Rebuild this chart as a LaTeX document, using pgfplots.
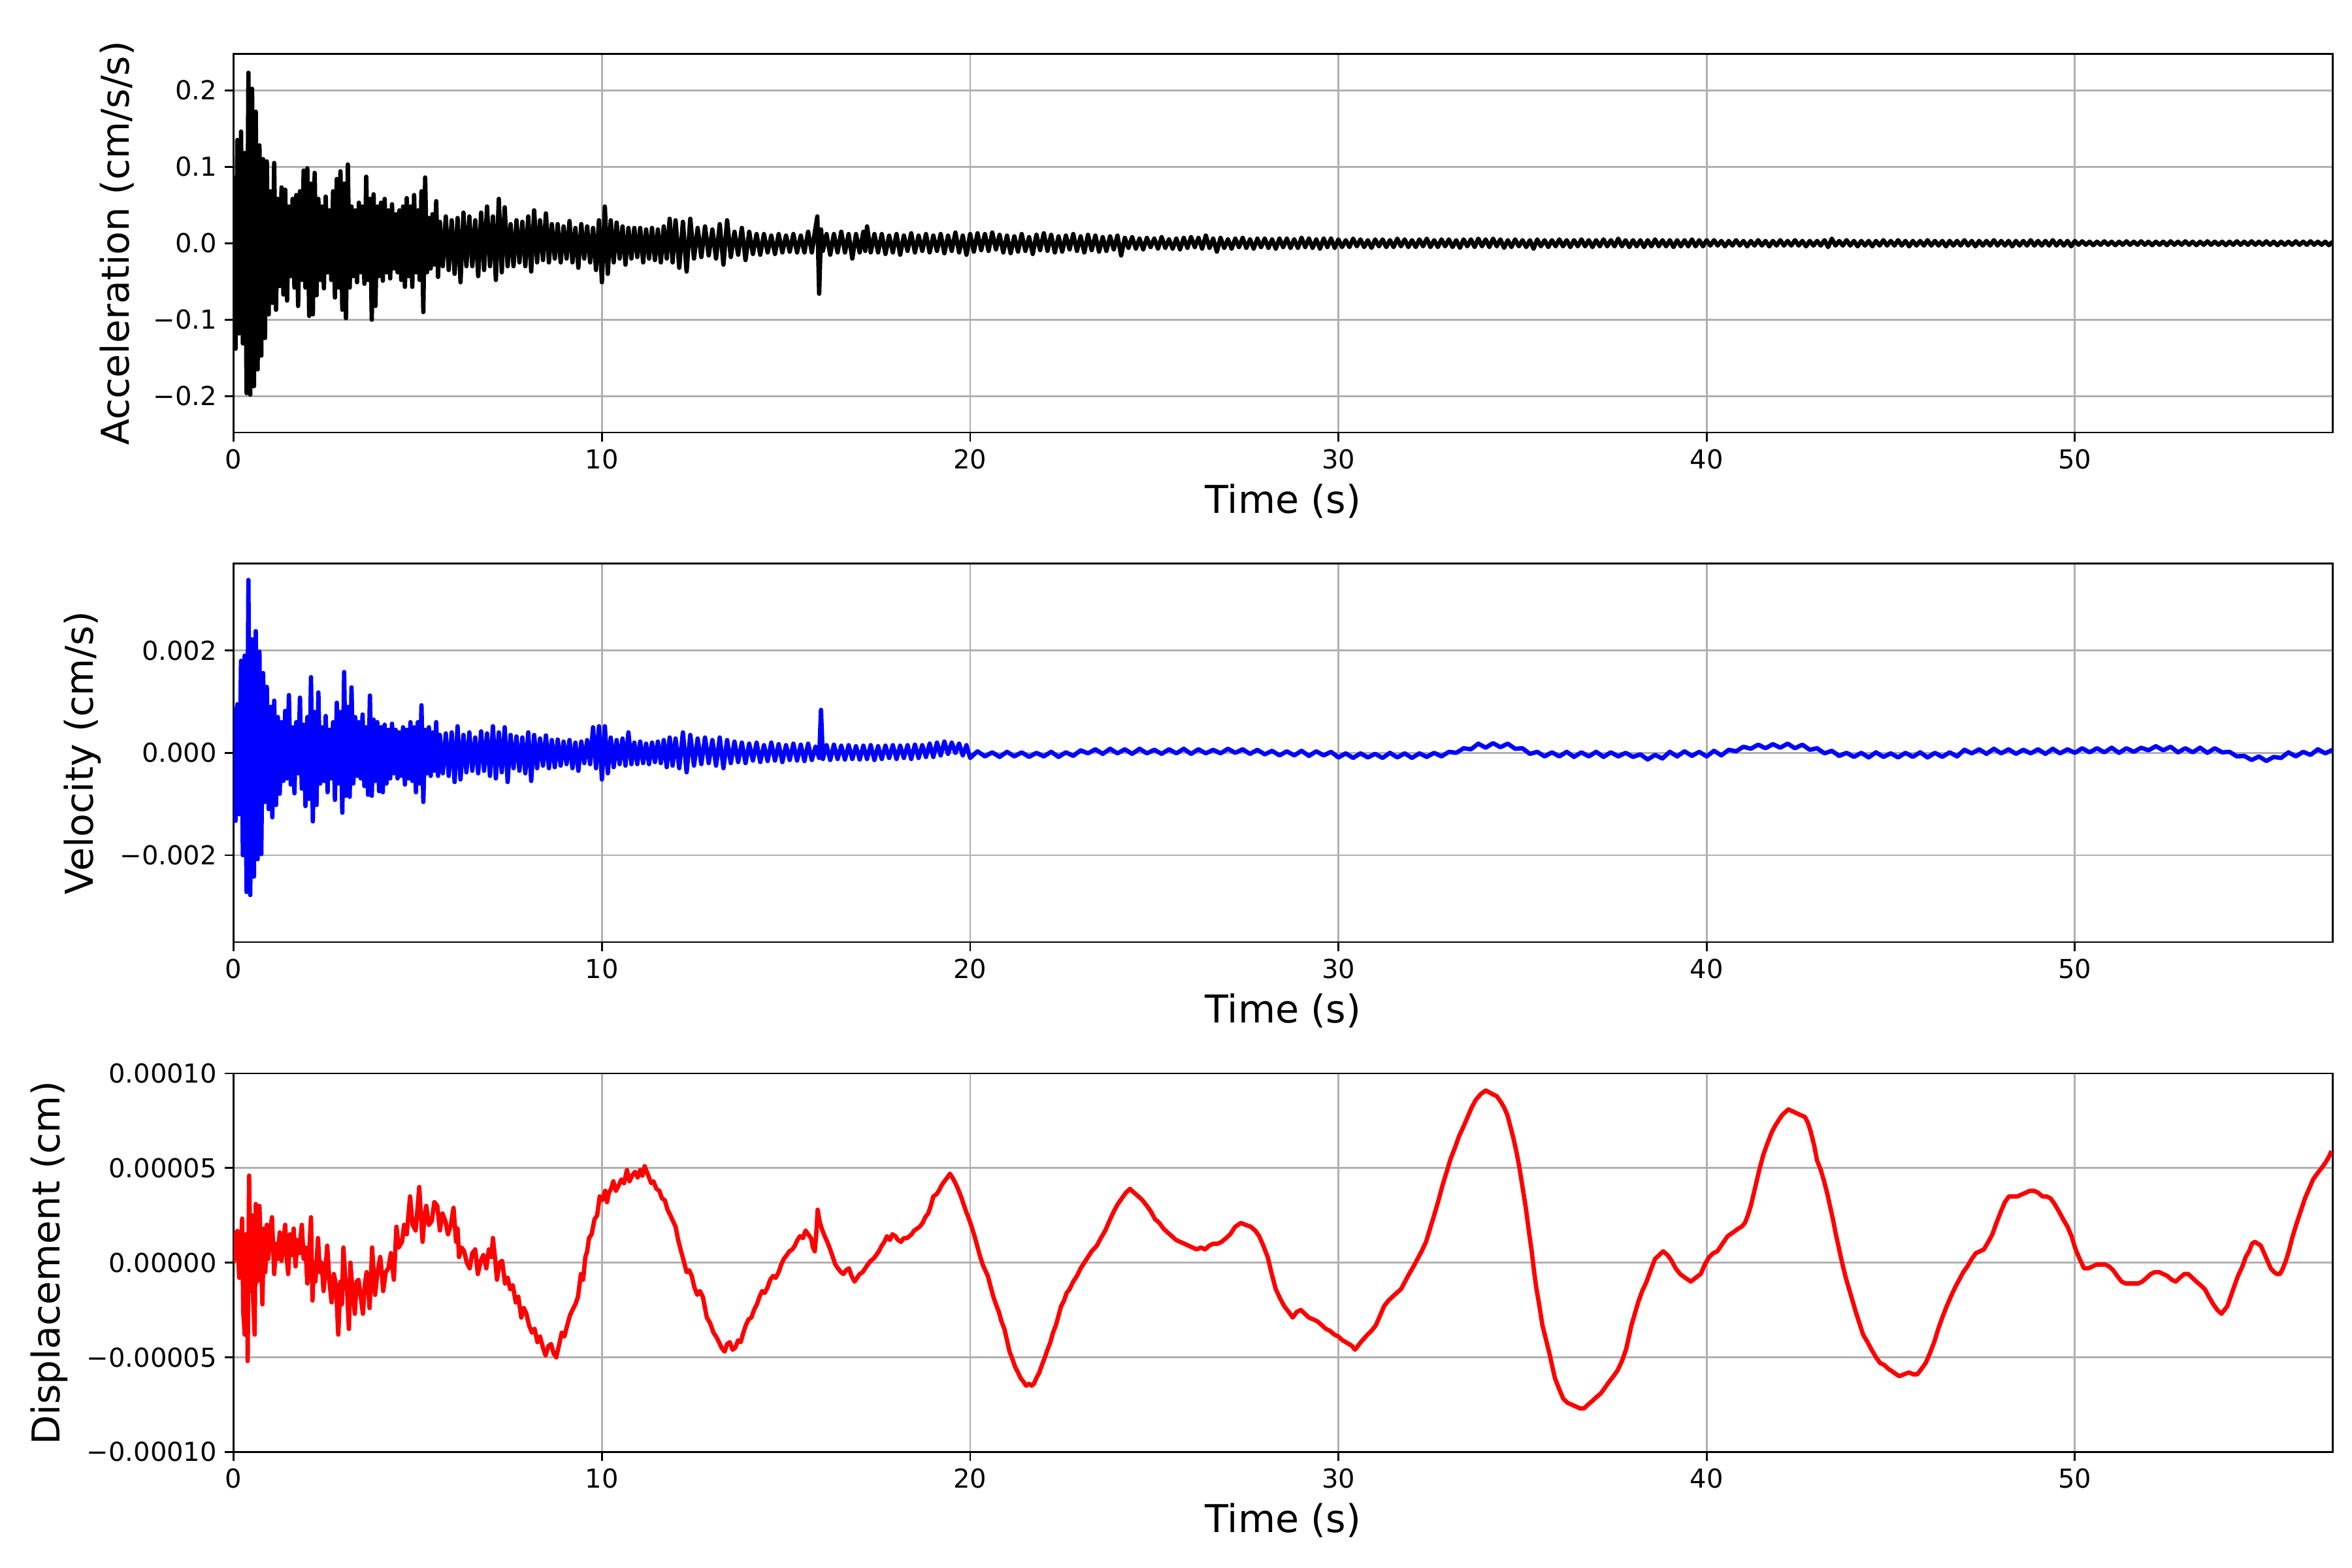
\documentclass[border=0pt]{standalone}
\usepackage{fontspec}
\setmainfont{DejaVu Sans}
\usepackage{pgfplots}
\pgfplotsset{compat=1.18}
\definecolor{gridgray}{HTML}{B0B0B0}
\pgfplotsset{
  panel/.style={
    scale only axis, width=963.8pt, height=173.8pt, anchor=south west,
    xmin=0, xmax=57,
    xtick={0,10,20,30,40,50}, xticklabels={0,10,20,30,40,50},
    grid=major, major grid style={draw=gridgray, line width=0.8pt},
    axis line style={line width=0.8pt},
    tick style={black, line width=0.8pt},
    tick align=outside, major tick length=4.2pt,
    tick pos=left,
    tick label style={font=\fontsize{12}{14}\selectfont},
    label style={font=\fontsize{17.6}{21}\selectfont},
    ylabel shift=2pt,
    xlabel={Time (s)},
    scaled ticks=false,
  },
  sig/.style={line width=2pt, line join=round},
}
\begin{document}
\begin{tikzpicture}
\useasboundingbox (0,0) rectangle (1080pt,720pt);
% ---------------- Acceleration ----------------
\begin{axis}[panel, at={(107.3pt,521.4pt)},
  ymin=-0.2475, ymax=0.2475,
  ytick={-0.2,-0.1,0,0.1,0.2}, yticklabels={−0.2,−0.1,0.0,0.1,0.2},
  ylabel={Acceleration (cm/s/s)}]
\addplot[sig, black] coordinates {
(0.00,0.088)(0.05,-0.138)(0.10,0.135)(0.15,-0.118)(0.20,0.146)(0.25,-0.131)(0.30,0.118)(0.35,-0.196)(0.40,0.223)(0.45,-0.198)
(0.50,0.202)(0.55,-0.187)(0.60,0.172)(0.65,-0.165)(0.70,0.128)(0.75,-0.147)(0.80,0.110)(0.85,-0.124)(0.90,0.107)(0.95,-0.093)
(1.00,0.068)(1.05,-0.078)(1.10,0.105)(1.15,-0.087)(1.20,0.058)(1.25,-0.056)(1.30,0.073)(1.35,-0.067)(1.40,0.070)(1.45,-0.075)
(1.50,0.048)(1.55,-0.043)(1.60,0.058)(1.65,-0.058)(1.70,0.063)(1.75,-0.082)(1.80,0.068)(1.85,-0.048)(1.90,0.095)(1.95,-0.058)
(2.00,0.098)(2.05,-0.095)(2.10,0.078)(2.15,-0.093)(2.20,0.092)(2.25,-0.068)(2.30,0.058)(2.35,-0.048)(2.40,0.048)(2.45,-0.059)
(2.50,0.061)(2.55,-0.038)(2.60,0.043)(2.65,-0.048)(2.70,0.068)(2.75,-0.071)(2.80,0.084)(2.85,-0.058)(2.90,0.094)(2.95,-0.087)
(3.00,0.078)(3.05,-0.098)(3.10,0.103)(3.15,-0.058)(3.20,0.048)(3.25,-0.043)(3.30,0.043)(3.35,-0.051)(3.40,0.053)(3.45,-0.038)
(3.50,0.048)(3.55,-0.053)(3.60,0.087)(3.65,-0.048)(3.70,0.058)(3.75,-0.100)(3.80,0.064)(3.85,-0.082)(3.90,0.048)(3.95,-0.043)
(4.00,0.053)(4.05,-0.049)(4.10,0.058)(4.15,-0.038)(4.20,0.043)(4.25,-0.046)(4.30,0.051)(4.35,-0.033)(4.40,0.038)(4.45,-0.038)
(4.50,0.043)(4.55,-0.048)(4.60,0.048)(4.65,-0.057)(4.70,0.059)(4.75,-0.043)(4.80,0.048)(4.85,-0.057)(4.90,0.063)(4.95,-0.038)
(5.00,0.043)(5.05,-0.048)(5.10,0.068)(5.15,-0.090)(5.20,0.086)(5.25,-0.038)(5.30,0.033)(5.35,-0.033)(5.40,0.038)(5.45,-0.028)
(5.50,0.055)(5.55,-0.044)(5.60,0.028)
(5.68,-0.030)(5.76,0.035)(5.84,-0.035)(5.92,0.030)(6.00,-0.040)(6.08,0.033)(6.16,-0.051)(6.24,0.040)(6.32,-0.030)(6.40,0.035)
(6.48,-0.030)(6.56,0.030)(6.64,-0.043)(6.72,0.040)(6.80,-0.035)(6.88,0.048)(6.96,-0.030)(7.04,0.035)(7.12,-0.048)(7.20,0.058)
(7.28,-0.038)(7.36,0.047)(7.44,-0.030)(7.52,0.025)(7.60,-0.030)(7.68,0.030)(7.76,-0.025)(7.84,0.028)(7.92,-0.030)(8.00,0.035)
(8.08,-0.037)(8.16,0.043)(8.24,-0.025)(8.32,0.030)(8.40,-0.022)(8.48,0.039)(8.56,-0.025)(8.64,0.025)(8.72,-0.020)(8.80,0.025)
(8.88,-0.025)(8.96,0.022)(9.04,-0.020)(9.12,0.029)(9.20,-0.025)(9.28,0.020)(9.36,-0.032)(9.44,0.025)(9.52,-0.020)(9.60,0.022)
(9.68,-0.025)(9.76,0.020)(9.84,-0.035)(9.92,0.030)(10.00,-0.051)(10.08,0.048)(10.16,-0.040)(10.24,0.030)(10.32,-0.025)(10.40,0.027)
(10.48,-0.020)(10.56,0.022)(10.64,-0.028)(10.72,0.020)(10.80,-0.020)(10.88,0.020)(10.96,-0.018)(11.04,0.020)(11.12,-0.025)(11.20,0.018)
(11.28,-0.020)(11.36,0.020)(11.44,-0.022)(11.52,0.018)(11.60,-0.025)(11.68,0.022)(11.76,-0.020)(11.84,0.032)(11.92,-0.025)(12.00,0.030)
(12.1,-0.032)(12.2,0.028)(12.3,-0.037)(12.4,0.032)(12.5,-0.020)(12.6,0.020)(12.7,-0.018)(12.8,0.022)(12.9,-0.016)(13.0,0.018)
(13.1,-0.020)(13.2,0.025)(13.3,-0.028)(13.4,0.030)(13.5,-0.018)(13.6,0.015)(13.7,-0.015)(13.8,0.020)(13.9,-0.022)(14.0,0.015)
(14.1,-0.014)(14.2,0.012)(14.3,-0.015)(14.4,0.012)(14.5,-0.012)(14.6,0.010)(14.7,-0.014)(14.8,0.012)(14.9,-0.012)(15.0,0.010)
(15.1,-0.011)(15.2,0.012)(15.3,-0.012)(15.4,0.010)(15.5,-0.012)(15.6,0.015)(15.7,-0.012)(15.8,0.020)(15.85,0.035)(15.9,-0.066)
(15.95,0.018)(16.0,-0.010)(16.1,0.012)(16.2,-0.015)(16.3,0.012)(16.4,-0.012)(16.5,0.015)(16.6,-0.012)(16.7,0.012)(16.8,-0.020)
(16.9,0.012)(17.0,-0.012)(17.1,0.015)(17.15,-0.010)(17.2,0.022)(17.3,-0.012)(17.4,0.012)(17.5,-0.012)(17.6,0.012)(17.7,-0.014)
(17.8,0.010)(17.9,-0.012)(18.0,0.012)(18.1,-0.015)(18.2,0.010)(18.3,-0.010)(18.4,0.013)(18.5,-0.012)(18.6,0.010)(18.7,-0.010)
(18.8,0.012)(18.9,-0.012)(19.0,0.010)(19.1,-0.010)(19.2,0.012)(19.3,-0.013)(19.4,0.010)(19.5,-0.010)(19.6,0.014)(19.7,-0.012)
(19.8,0.010)(19.9,-0.015)(20.0,0.012)
(20.1,-0.011)(20.2,0.013)(20.3,-0.009)(20.4,0.012)(20.5,-0.010)(20.6,0.014)(20.7,-0.008)(20.8,0.011)(20.9,-0.012)(21.0,0.010)
(21.1,-0.013)(21.2,0.009)(21.3,-0.011)(21.4,0.012)(21.5,-0.010)(21.6,0.008)(21.7,-0.014)(21.8,0.011)(21.9,-0.009)(22.0,0.013)
(22.1,-0.010)(22.2,0.011)(22.3,-0.012)(22.4,0.009)(22.5,-0.011)(22.6,0.010)(22.7,-0.008)(22.8,0.012)(22.9,-0.010)(23.0,0.009)
(23.1,-0.012)(23.2,0.011)(23.3,-0.009)(23.4,0.010)(23.5,-0.011)(23.6,0.008)(23.7,-0.010)(23.8,0.009)(23.9,-0.008)(24.0,0.010)
(24.1,-0.016)(24.2,0.007)(24.3,-0.006)(24.4,0.008)(24.5,-0.007)(24.6,0.006)(24.7,-0.008)(24.8,0.007)(24.9,-0.005)(25.0,0.006)
(25.1,-0.007)(25.2,0.008)(25.3,-0.006)(25.4,0.005)(25.5,-0.007)(25.6,0.006)(25.7,-0.008)(25.8,0.007)(25.9,-0.006)(26.0,0.008)
(26.1,-0.005)(26.2,0.007)(26.3,-0.007)(26.4,0.010)(26.5,-0.006)(26.6,0.006)(26.7,-0.011)(26.8,0.007)(26.9,-0.006)(27.0,0.005)
(27.1,-0.007)(27.2,0.006)(27.3,-0.005)(27.4,0.007)(27.5,-0.006)(27.6,0.005)(27.7,-0.007)(27.8,0.006)(27.9,-0.005)(28.0,0.006)
(28.1,-0.006)(28.2,0.005)(28.3,-0.007)(28.4,0.006)(28.5,-0.005)(28.6,0.006)(28.7,-0.006)(28.8,0.005)(28.9,-0.006)(29.0,0.007)
(29.1,-0.005)(29.2,0.006)(29.3,-0.006)(29.4,0.005)(29.5,-0.007)(29.6,0.006)(29.7,-0.005)(29.8,0.006)(29.9,-0.006)(30.0,0.005)
(30.1,-0.005)(30.2,0.004)(30.3,-0.005)(30.4,0.006)(30.5,-0.004)(30.6,0.005)(30.7,-0.005)(30.8,0.004)(30.9,-0.006)(31.0,0.005)
(31.1,-0.004)(31.2,0.005)(31.3,-0.005)(31.4,0.004)(31.5,-0.005)(31.6,0.006)(31.7,-0.004)(31.8,0.005)(31.9,-0.005)(32.0,0.004)
(32.1,-0.005)(32.2,0.005)(32.3,-0.004)(32.4,0.006)(32.5,-0.005)(32.6,0.004)(32.7,-0.005)(32.8,0.005)(32.9,-0.004)(33.0,0.005)
(33.1,-0.005)(33.2,0.004)(33.3,-0.006)(33.4,0.005)(33.5,-0.004)(33.6,0.005)(33.7,-0.005)(33.8,0.006)(33.9,-0.004)(34.0,0.005)
(34.1,-0.005)(34.2,0.006)(34.3,-0.004)(34.4,0.005)(34.5,-0.006)(34.6,0.004)(34.7,-0.005)(34.8,0.005)(34.9,-0.004)(35.0,0.004)
(35.1,-0.005)(35.2,0.004)(35.3,-0.007)(35.4,0.005)(35.5,-0.004)(35.6,0.004)(35.7,-0.005)(35.8,0.004)(35.9,-0.004)(36.0,0.005)
(36.1,-0.004)(36.2,0.004)(36.3,-0.005)(36.4,0.004)(36.5,-0.004)(36.6,0.005)(36.7,-0.004)(36.8,0.004)(36.9,-0.005)(37.0,0.004)
(37.1,-0.004)(37.2,0.005)(37.3,-0.004)(37.4,0.004)(37.5,-0.004)(37.6,0.006)(37.7,-0.004)(37.8,0.004)(37.9,-0.005)(38.0,0.004)
(38.1,-0.004)(38.2,0.004)(38.3,-0.005)(38.4,0.004)(38.5,-0.004)(38.6,0.005)(38.7,-0.004)(38.8,0.004)(38.9,-0.004)(39.0,0.004)
(39.1,-0.005)(39.2,0.004)(39.3,-0.004)(39.4,0.004)(39.5,-0.004)(39.6,0.005)(39.7,-0.004)(39.8,0.004)(39.9,-0.004)(40.0,0.004)
(40.1,-0.003)(40.2,0.004)(40.3,-0.003)(40.4,0.003)(40.5,-0.004)(40.6,0.003)(40.7,-0.003)(40.8,0.004)(40.9,-0.003)(41.0,0.003)
(41.1,-0.004)(41.2,0.003)(41.3,-0.003)(41.4,0.004)(41.5,-0.003)(41.6,0.003)(41.7,-0.004)(41.8,0.003)(41.9,-0.003)(42.0,0.004)
(42.1,-0.003)(42.2,0.003)(42.3,-0.003)(42.4,0.004)(42.5,-0.003)(42.6,0.003)(42.7,-0.004)(42.8,0.003)(42.9,-0.003)(43.0,0.003)
(43.1,-0.003)(43.2,0.004)(43.3,-0.005)(43.4,0.006)(43.5,-0.003)(43.6,0.003)(43.7,-0.003)(43.8,0.004)(43.9,-0.003)(44.0,0.003)
(44.1,-0.004)(44.2,0.003)(44.3,-0.003)(44.4,0.003)(44.5,-0.004)(44.6,0.003)(44.7,-0.003)(44.8,0.004)(44.9,-0.003)(45.0,0.003)
(45.1,-0.003)(45.2,0.004)(45.3,-0.003)(45.4,0.003)(45.5,-0.004)(45.6,0.003)(45.7,-0.003)(45.8,0.003)(45.9,-0.003)(46.0,0.004)
(46.1,-0.003)(46.2,0.003)(46.3,-0.003)(46.4,0.003)(46.5,-0.004)(46.6,0.003)(46.7,-0.003)(46.8,0.003)(46.9,-0.003)(47.0,0.004)
(47.1,-0.003)(47.2,0.003)(47.3,-0.004)(47.4,0.003)(47.5,-0.003)(47.6,0.003)(47.7,-0.003)(47.8,0.004)(47.9,-0.003)(48.0,0.003)
(48.1,-0.003)(48.2,0.003)(48.3,-0.004)(48.4,0.003)(48.5,-0.003)(48.6,0.003)(48.7,-0.003)(48.8,0.004)(48.9,-0.003)(49.0,0.003)
(49.1,-0.003)(49.2,0.003)(49.3,-0.003)(49.4,0.004)(49.5,-0.003)(49.6,0.003)(49.7,-0.003)(49.8,0.003)(49.9,-0.004)(50.0,0.003)
(50.1,-0.002)(50.2,0.0025)(50.3,-0.002)(50.4,0.002)(50.5,-0.0025)(50.6,0.002)(50.7,-0.002)(50.8,0.0025)(50.9,-0.002)(51.0,0.002)
(51.1,-0.0025)(51.2,0.002)(51.3,-0.002)(51.4,0.0025)(51.5,-0.002)(51.6,0.002)(51.7,-0.002)(51.8,0.0025)(51.9,-0.002)(52.0,0.002)
(52.1,-0.0025)(52.2,0.002)(52.3,-0.002)(52.4,0.002)(52.5,-0.0025)(52.6,0.0025)(52.7,-0.002)(52.8,0.002)(52.9,-0.002)(53.0,0.0025)
(53.1,-0.002)(53.2,0.002)(53.3,-0.0025)(53.4,0.002)(53.5,-0.002)(53.6,0.0025)(53.7,-0.002)(53.8,0.002)(53.9,-0.002)(54.0,0.002)
(54.1,-0.0025)(54.2,0.002)(54.3,-0.002)(54.4,0.0025)(54.5,-0.002)(54.6,0.002)(54.7,-0.002)(54.8,0.0025)(54.9,-0.002)(55.0,0.002)
(55.1,-0.002)(55.2,0.0025)(55.3,-0.002)(55.4,0.002)(55.5,-0.0025)(55.6,0.002)(55.7,-0.002)(55.8,0.002)(55.9,-0.002)(56.0,0.0025)
(56.1,-0.002)(56.2,0.002)(56.3,-0.002)(56.4,0.0025)(56.5,-0.002)(56.6,0.002)(56.7,-0.002)(56.8,0.002)(56.9,-0.0025)(57.0,0.002)
};
\end{axis}
% ---------------- Velocity ----------------
\begin{axis}[panel, at={(107.3pt,287.4pt)},
  ymin=-0.0037, ymax=0.0037,
  ytick={-0.002,0,0.002}, yticklabels={−0.002,0.000,0.002},
  ylabel={Velocity (cm/s)}]
\addplot[sig, blue] coordinates {
(0.00,90e-5)(0.05,-133e-5)(0.10,95e-5)(0.15,-120e-5)(0.20,180e-5)(0.25,-200e-5)(0.30,190e-5)(0.35,-272e-5)(0.40,338e-5)(0.45,-278e-5)
(0.50,222e-5)(0.55,-242e-5)(0.60,238e-5)(0.65,-208e-5)(0.70,198e-5)(0.75,-198e-5)(0.80,156e-5)(0.85,-96e-5)(0.90,129e-5)(0.95,-110e-5)
(1.00,90e-5)(1.05,-126e-5)(1.10,102e-5)(1.15,-102e-5)(1.20,70e-5)(1.25,-80e-5)(1.30,60e-5)(1.35,-55e-5)(1.40,82e-5)(1.45,-50e-5)
(1.50,113e-5)(1.55,-62e-5)(1.60,50e-5)(1.65,-79e-5)(1.70,60e-5)(1.75,-40e-5)(1.80,108e-5)(1.85,-70e-5)(1.90,55e-5)(1.95,-104e-5)
(2.00,70e-5)(2.05,-90e-5)(2.10,148e-5)(2.15,-134e-5)(2.20,80e-5)(2.25,-102e-5)(2.30,118e-5)(2.35,-60e-5)(2.40,50e-5)(2.45,-55e-5)
(2.50,72e-5)(2.55,-77e-5)(2.60,45e-5)(2.65,-50e-5)(2.70,60e-5)(2.75,-92e-5)(2.80,98e-5)(2.85,-60e-5)(2.90,80e-5)(2.95,-117e-5)
(3.00,158e-5)(3.05,-84e-5)(3.10,90e-5)(3.15,-86e-5)(3.20,128e-5)(3.25,-60e-5)(3.30,70e-5)(3.35,-45e-5)(3.40,60e-5)(3.45,-50e-5)
(3.50,75e-5)(3.55,-65e-5)(3.60,50e-5)(3.65,-82e-5)(3.70,112e-5)(3.75,-84e-5)(3.80,65e-5)(3.85,-55e-5)(3.90,60e-5)(3.95,-75e-5)
(4.00,50e-5)(4.05,-77e-5)(4.10,55e-5)(4.15,-60e-5)(4.20,45e-5)(4.25,-50e-5)(4.30,57e-5)(4.35,-40e-5)(4.40,45e-5)(4.45,-50e-5)
(4.50,40e-5)(4.55,-45e-5)(4.60,50e-5)(4.65,-62e-5)(4.70,45e-5)(4.75,-50e-5)(4.80,60e-5)(4.85,-55e-5)(4.90,50e-5)(4.95,-77e-5)
(5.00,60e-5)(5.05,-60e-5)(5.10,93e-5)(5.15,-96e-5)(5.20,45e-5)(5.25,-40e-5)(5.30,50e-5)(5.35,-45e-5)(5.40,40e-5)(5.45,-35e-5)
(5.50,60e-5)(5.55,-45e-5)(5.60,35e-5)
(5.68,-40e-5)(5.76,38e-5)(5.84,-45e-5)(5.92,40e-5)(6.00,-57e-5)(6.08,52e-5)(6.16,-52e-5)(6.24,35e-5)(6.32,-38e-5)(6.40,40e-5)
(6.48,-35e-5)(6.56,30e-5)(6.64,-40e-5)(6.72,42e-5)(6.80,-35e-5)(6.88,38e-5)(6.96,-45e-5)(7.04,52e-5)(7.12,-50e-5)(7.20,40e-5)
(7.28,-38e-5)(7.36,50e-5)(7.44,-57e-5)(7.52,35e-5)(7.60,-30e-5)(7.68,32e-5)(7.76,-35e-5)(7.84,30e-5)(7.92,-40e-5)(8.00,40e-5)
(8.08,-55e-5)(8.16,35e-5)(8.24,-30e-5)(8.32,28e-5)(8.40,-25e-5)(8.48,34e-5)(8.56,-30e-5)(8.64,25e-5)(8.72,-28e-5)(8.80,26e-5)
(8.88,-25e-5)(8.96,22e-5)(9.04,-22e-5)(9.12,25e-5)(9.20,-30e-5)(9.28,20e-5)(9.36,-35e-5)(9.44,22e-5)(9.52,-20e-5)(9.60,25e-5)
(9.68,-22e-5)(9.76,50e-5)(9.84,-30e-5)(9.92,52e-5)(10.00,-52e-5)(10.08,52e-5)(10.16,-40e-5)(10.24,30e-5)(10.32,-28e-5)(10.40,25e-5)
(10.48,-22e-5)(10.56,28e-5)(10.64,-25e-5)(10.72,40e-5)(10.80,-22e-5)(10.88,20e-5)(10.96,-22e-5)(11.04,22e-5)(11.12,-20e-5)(11.20,18e-5)
(11.28,-22e-5)(11.36,20e-5)(11.44,-18e-5)(11.52,22e-5)(11.60,-20e-5)(11.68,25e-5)(11.76,-28e-5)(11.84,30e-5)(11.92,-25e-5)(12.00,28e-5)
(12.1,-30e-5)(12.2,40e-5)(12.3,-38e-5)(12.4,35e-5)(12.5,-25e-5)(12.6,28e-5)(12.7,-22e-5)(12.8,30e-5)(12.9,-20e-5)(13.0,25e-5)
(13.1,-25e-5)(13.2,30e-5)(13.3,-30e-5)(13.4,25e-5)(13.5,-20e-5)(13.6,22e-5)(13.7,-18e-5)(13.8,20e-5)(13.9,-20e-5)(14.0,18e-5)
(14.1,-15e-5)(14.2,20e-5)(14.3,-18e-5)(14.4,15e-5)(14.5,-16e-5)(14.6,20e-5)(14.7,-15e-5)(14.8,17e-5)(14.9,-18e-5)(15.0,15e-5)
(15.1,-14e-5)(15.2,18e-5)(15.3,-15e-5)(15.4,16e-5)(15.5,-16e-5)(15.6,18e-5)(15.7,-14e-5)(15.8,12e-5)(15.9,-10e-5)(15.95,84e-5)
(16.0,-12e-5)(16.1,15e-5)(16.2,-14e-5)(16.3,16e-5)(16.4,-12e-5)(16.5,14e-5)(16.6,-13e-5)(16.7,15e-5)(16.8,-12e-5)(16.9,13e-5)
(17.0,-13e-5)(17.1,14e-5)(17.2,-12e-5)(17.3,15e-5)(17.4,-14e-5)(17.5,13e-5)(17.6,-12e-5)(17.7,14e-5)(17.8,-10e-5)(17.9,15e-5)
(18.0,-12e-5)(18.1,14e-5)(18.2,-10e-5)(18.3,15e-5)(18.4,-12e-5)(18.5,16e-5)(18.6,-10e-5)(18.7,15e-5)(18.8,-8e-5)(18.9,18e-5)
(19.0,-8e-5)(19.1,20e-5)(19.2,-5e-5)(19.3,22e-5)(19.4,-2e-5)(19.5,20e-5)(19.6,0)(19.7,18e-5)(19.8,-5e-5)(19.9,15e-5)(20.0,-10e-5)
(20.2,3e-5)(20.4,-7e-5)(20.6,1e-5)(20.8,-8e-5)(21.0,2e-5)(21.2,-7e-5)(21.4,1e-5)(21.6,-8e-5)(21.8,0)(22.0,-7e-5)
(22.2,2e-5)(22.4,-8e-5)(22.6,1e-5)(22.8,-6e-5)(23.0,5e-5)(23.2,-1e-5)(23.4,7e-5)(23.6,-2e-5)(23.8,8e-5)(24.0,-1e-5)
(24.2,7e-5)(24.4,-2e-5)(24.6,8e-5)(24.8,-1e-5)(25.0,6e-5)(25.2,-2e-5)(25.4,7e-5)(25.6,-1e-5)(25.8,8e-5)(26.0,-2e-5)
(26.2,7e-5)(26.4,-1e-5)(26.6,6e-5)(26.8,-1e-5)(27.0,8e-5)(27.2,0)(27.4,7e-5)(27.6,-2e-5)(27.8,6e-5)(28.0,-3e-5)
(28.2,4e-5)(28.4,-5e-5)(28.6,3e-5)(28.8,-5e-5)(29.0,4e-5)(29.2,-6e-5)(29.4,3e-5)(29.6,-5e-5)(29.8,2e-5)(30.0,-9e-5)
(30.2,-1e-5)(30.4,-10e-5)(30.6,-1e-5)(30.8,-9e-5)(31.0,-2e-5)(31.2,-10e-5)(31.4,0)(31.6,-9e-5)(31.8,-1e-5)(32.0,-10e-5)
(32.2,-1e-5)(32.4,-8e-5)(32.6,0)(32.8,-7e-5)(33.0,2e-5)(33.2,0)(33.4,9e-5)(33.6,7e-5)(33.8,18e-5)(34.0,10e-5)
(34.2,19e-5)(34.4,11e-5)(34.6,18e-5)(34.8,8e-5)(35.0,9e-5)(35.2,-2e-5)(35.4,2e-5)(35.6,-7e-5)(35.8,1e-5)(36.0,-7e-5)
(36.2,2e-5)(36.4,-8e-5)(36.6,1e-5)(36.8,-7e-5)(37.0,2e-5)(37.2,-8e-5)(37.4,1e-5)(37.6,-7e-5)(37.8,0)(38.0,-8e-5)
(38.2,-3e-5)(38.4,-13e-5)(38.6,-4e-5)(38.8,-11e-5)(39.0,2e-5)(39.2,-7e-5)(39.4,3e-5)(39.6,-6e-5)(39.8,2e-5)(40.0,-7e-5)
(40.2,4e-5)(40.4,-5e-5)(40.6,6e-5)(40.8,3e-5)(41.0,12e-5)(41.2,8e-5)(41.4,16e-5)(41.6,9e-5)(41.8,17e-5)(42.0,10e-5)
(42.2,18e-5)(42.4,9e-5)(42.6,16e-5)(42.8,6e-5)(43.0,9e-5)(43.2,-1e-5)(43.4,4e-5)(43.6,-6e-5)(43.8,0)(44.0,-8e-5)
(44.2,0)(44.4,-9e-5)(44.6,1e-5)(44.8,-8e-5)(45.0,-1e-5)(45.2,-9e-5)(45.4,0)(45.6,-8e-5)(45.8,1e-5)(46.0,-9e-5)
(46.2,0)(46.4,-8e-5)(46.6,1e-5)(46.8,-7e-5)(47.0,6e-5)(47.2,-1e-5)(47.4,7e-5)(47.6,-2e-5)(47.8,8e-5)(48.0,-1e-5)
(48.2,7e-5)(48.4,-2e-5)(48.6,6e-5)(48.8,-1e-5)(49.0,7e-5)(49.2,-2e-5)(49.4,8e-5)(49.6,-1e-5)(49.8,7e-5)(50.0,0)
(50.2,9e-5)(50.4,1e-5)(50.6,9e-5)(50.8,1e-5)(51.0,10e-5)(51.2,0)(51.4,9e-5)(51.6,2e-5)(51.8,10e-5)(52.0,5e-5)
(52.2,13e-5)(52.4,5e-5)(52.6,12e-5)(52.8,1e-5)(53.0,9e-5)(53.2,1e-5)(53.4,10e-5)(53.6,0)(53.8,9e-5)(54.0,1e-5)
(54.2,2e-5)(54.4,-7e-5)(54.6,-6e-5)(54.8,-14e-5)(55.0,-7e-5)(55.2,-16e-5)(55.4,-8e-5)(55.6,-10e-5)(55.8,1e-5)(56.0,-7e-5)
(56.2,2e-5)(56.4,-4e-5)(56.6,7e-5)(56.8,-1e-5)(57.0,6e-5)
};
\end{axis}
% ---------------- Displacement ----------------
\begin{axis}[panel, at={(107.3pt,53.3pt)},
  ymin=-0.0001, ymax=0.0001,
  ytick={-0.0001,-0.00005,0,0.00005,0.0001},
  yticklabels={−0.00010,−0.00005,0.00000,0.00005,0.00010},
  ylabel={Displacement (cm)}]
\addplot[sig, red] coordinates {
(0.00,0)(0.05,1.5e-5)(0.10,1.67e-5)(0.15,-0.8e-5)(0.20,1.0e-5)(0.23,2.33e-5)(0.26,-2.6e-5)(0.30,-3.8e-5)(0.33,1.5e-5)(0.36,0.5e-5)
(0.38,-5.2e-5)(0.42,4.6e-5)(0.46,-1.5e-5)(0.50,2.5e-5)(0.53,-2.0e-5)(0.57,-3.8e-5)(0.60,3.1e-5)(0.64,-1.0e-5)(0.67,2.0e-5)(0.70,3.0e-5)
(0.74,0.5e-5)(0.78,-2.2e-5)(0.82,1.8e-5)(0.86,-0.5e-5)(0.90,2.0e-5)(0.94,0.2e-5)(0.98,1.5e-5)(1.04,2.4e-5)(1.10,-0.6e-5)(1.15,1.0e-5)
(1.20,0.2e-5)(1.25,1.6e-5)(1.30,0.1e-5)(1.35,1.2e-5)(1.40,2.0e-5)(1.44,0.3e-5)(1.48,-0.6e-5)(1.53,1.5e-5)(1.58,0.4e-5)(1.63,1.8e-5)
(1.68,-0.2e-5)(1.73,1.2e-5)(1.78,0.5e-5)(1.85,2.0e-5)(1.90,0.2e-5)(1.95,0.8e-5)(2.00,-1.1e-5)(2.05,0.5e-5)(2.10,2.4e-5)(2.14,-2.0e-5)
(2.18,0.0)(2.22,-1.0e-5)(2.29,1.3e-5)(2.34,-0.5e-5)(2.39,0.0)(2.44,-1.5e-5)(2.49,-0.5e-5)(2.54,0.9e-5)(2.60,-1.0e-5)(2.66,-2.1e-5)
(2.72,-0.6e-5)(2.78,-1.2e-5)(2.84,-3.8e-5)(2.90,-1.0e-5)(2.94,-2.2e-5)(2.98,0.8e-5)(3.03,-0.8e-5)(3.08,-1.5e-5)(3.13,-3.5e-5)(3.17,0.0)
(3.22,-1.3e-5)(3.29,-2.7e-5)(3.34,-1.0e-5)(3.39,-0.9e-5)(3.45,-1.8e-5)(3.51,-2.7e-5)(3.56,-1.2e-5)(3.61,-0.5e-5)(3.66,-1.5e-5)(3.69,-2.4e-5)
(3.73,-0.8e-5)(3.76,0.8e-5)(3.80,-0.5e-5)(3.84,-1.7e-5)(3.90,-0.6e-5)(3.98,0.3e-5)(4.02,-0.5e-5)(4.06,-1.5e-5)(4.13,-0.5e-5)(4.20,-0.3e-5)
(4.27,0.5e-5)(4.35,-0.9e-5)(4.42,1.9e-5)(4.48,0.8e-5)(4.57,1.1e-5)(4.63,2.0e-5)(4.70,1.5e-5)(4.79,3.5e-5)(4.86,2.0e-5)(4.94,1.7e-5)
(4.99,2.8e-5)(5.04,4.0e-5)(5.09,2.3e-5)(5.13,1.1e-5)(5.18,2.4e-5)(5.23,3.0e-5)(5.30,2.0e-5)(5.38,2.2e-5)(5.45,3.2e-5)(5.53,3.0e-5)
(5.60,1.7e-5)(5.67,2.6e-5)(5.75,2.2e-5)(5.82,1.5e-5)(5.90,2.0e-5)(5.97,2.9e-5)(6.04,1.1e-5)(6.08,1.8e-5)(6.12,0.3e-5)(6.19,0.8e-5)
(6.26,0.6e-5)(6.33,0.0)(6.41,-0.3e-5)(6.48,0.5e-5)(6.56,0.7e-5)(6.63,-0.6e-5)(6.71,0.1e-5)(6.78,0.4e-5)(6.86,-0.3e-5)(6.93,0.7e-5)
(7.00,0.3e-5)(7.04,1.3e-5)(7.10,0.2e-5)(7.15,-0.9e-5)(7.22,0.0)(7.29,0.1e-5)(7.37,-1.1e-5)(7.44,-0.8e-5)(7.51,-1.4e-5)(7.58,-1.2e-5)
(7.66,-2.1e-5)(7.73,-1.8e-5)(7.81,-2.9e-5)(7.88,-2.4e-5)(7.95,-2.7e-5)(8.02,-3.3e-5)(8.10,-3.7e-5)(8.17,-3.5e-5)(8.25,-4.2e-5)(8.32,-3.9e-5)
(8.40,-4.5e-5)(8.47,-4.9e-5)(8.55,-4.4e-5)(8.62,-4.3e-5)(8.69,-4.8e-5)(8.76,-5.0e-5)(8.83,-4.4e-5)(8.91,-3.7e-5)(8.98,-3.9e-5)(9.06,-3.3e-5)
(9.13,-2.8e-5)(9.20,-2.5e-5)(9.28,-2.2e-5)(9.35,-1.8e-5)(9.43,-0.6e-5)(9.49,-0.9e-5)(9.55,0.3e-5)(9.60,0.6e-5)(9.65,1.3e-5)(9.72,1.5e-5)
(9.80,2.3e-5)(9.87,2.5e-5)(9.94,3.5e-5)(10.01,3.3e-5)(10.09,3.8e-5)(10.14,3.2e-5)(10.19,3.7e-5)(10.25,3.9e-5)(10.31,4.3e-5)(10.38,3.8e-5)
(10.46,4.1e-5)(10.53,4.4e-5)(10.60,4.2e-5)(10.68,4.9e-5)(10.75,4.3e-5)(10.82,4.6e-5)(10.90,4.8e-5)(10.97,4.5e-5)(11.04,4.9e-5)(11.10,4.6e-5)
(11.16,5.1e-5)(11.22,4.8e-5)(11.28,4.5e-5)(11.34,4.2e-5)(11.40,4.3e-5)(11.48,3.9e-5)(11.56,3.8e-5)(11.63,3.4e-5)(11.71,3.3e-5)(11.78,2.8e-5)
(11.86,2.5e-5)(11.93,2.2e-5)(12.00,1.9e-5)(12.07,1.2e-5)(12.15,0.6e-5)(12.22,0.1e-5)(12.30,-0.5e-5)(12.37,-0.4e-5)(12.44,-0.7e-5)(12.51,-1.3e-5)
(12.59,-1.7e-5)(12.66,-1.5e-5)(12.74,-1.8e-5)(12.80,-2.4e-5)(12.85,-2.9e-5)(12.94,-3.2e-5)(13.03,-3.7e-5)(13.10,-3.9e-5)(13.18,-4.2e-5)(13.25,-4.5e-5)
(13.33,-4.7e-5)(13.40,-4.3e-5)(13.47,-4.2e-5)(13.55,-4.6e-5)(13.62,-4.5e-5)(13.70,-4.1e-5)(13.77,-4.2e-5)(13.84,-3.7e-5)(13.91,-3.3e-5)(13.98,-3.0e-5)
(14.06,-2.9e-5)(14.13,-2.5e-5)(14.21,-2.2e-5)(14.28,-1.8e-5)(14.35,-1.5e-5)(14.42,-1.6e-5)(14.50,-1.3e-5)(14.57,-0.9e-5)(14.65,-0.7e-5)(14.72,-0.8e-5)
(14.80,-0.5e-5)(14.87,-0.1e-5)(14.94,0.2e-5)(15.02,0.4e-5)(15.09,0.6e-5)(15.17,0.7e-5)(15.24,0.9e-5)(15.31,1.2e-5)(15.38,1.4e-5)(15.46,1.3e-5)
(15.53,1.7e-5)(15.60,1.5e-5)(15.68,1.3e-5)(15.73,0.8e-5)(15.78,0.6e-5)(15.82,1.5e-5)(15.86,2.8e-5)(15.91,2.2e-5)(15.97,1.8e-5)(16.05,1.4e-5)
(16.12,1.1e-5)(16.20,0.7e-5)(16.27,0.3e-5)(16.34,-0.1e-5)(16.41,-0.3e-5)(16.49,-0.5e-5)(16.56,-0.6e-5)(16.63,-0.4e-5)(16.71,-0.3e-5)(16.78,-0.7e-5)
(16.86,-1.0e-5)(16.93,-0.8e-5)(17.00,-0.6e-5)(17.08,-0.5e-5)(17.15,-0.3e-5)(17.22,-0.1e-5)(17.30,0.1e-5)(17.37,0.2e-5)(17.45,0.4e-5)(17.52,0.6e-5)
(17.60,0.9e-5)(17.67,1.1e-5)(17.74,1.4e-5)(17.82,1.2e-5)(17.89,1.5e-5)(17.97,1.4e-5)(18.04,1.2e-5)(18.12,1.1e-5)(18.20,1.3e-5)(18.29,1.3e-5)
(18.35,1.4e-5)(18.41,1.5e-5)(18.48,1.7e-5)(18.56,1.8e-5)(18.63,1.9e-5)(18.71,2.1e-5)(18.78,2.4e-5)(18.86,2.6e-5)(18.93,3.0e-5)(19.00,3.5e-5)
(19.08,3.6e-5)(19.15,3.8e-5)(19.23,4.1e-5)(19.30,4.3e-5)(19.38,4.5e-5)(19.45,4.7e-5)(19.52,4.5e-5)(19.60,4.2e-5)(19.67,3.9e-5)(19.75,3.5e-5)
(19.82,3.1e-5)(19.89,2.7e-5)(19.97,2.3e-5)(20.04,1.9e-5)(20.12,1.4e-5)(20.19,0.9e-5)(20.26,0.4e-5)(20.34,-0.1e-5)(20.41,-0.4e-5)(20.48,-0.7e-5)
(20.56,-1.3e-5)(20.63,-1.8e-5)(20.70,-2.2e-5)(20.78,-2.6e-5)(20.85,-3.1e-5)(20.93,-3.5e-5)(21.00,-4.1e-5)(21.07,-4.7e-5)(21.15,-5.1e-5)(21.22,-5.5e-5)
(21.30,-5.8e-5)(21.37,-6.1e-5)(21.45,-6.3e-5)(21.52,-6.5e-5)(21.60,-6.4e-5)(21.67,-6.5e-5)(21.73,-6.4e-5)(21.80,-6.1e-5)(21.88,-5.8e-5)(21.95,-5.4e-5)
(22.03,-5.0e-5)(22.10,-4.6e-5)(22.18,-4.2e-5)(22.25,-3.7e-5)(22.33,-3.3e-5)(22.40,-2.8e-5)(22.47,-2.3e-5)(22.55,-2.0e-5)(22.62,-1.6e-5)(22.70,-1.4e-5)
(22.80,-1.0e-5)(22.90,-0.7e-5)(23.00,-0.3e-5)(23.10,0.0)(23.20,0.3e-5)(23.30,0.6e-5)(23.44,0.9e-5)(23.55,1.3e-5)(23.67,1.7e-5)(23.78,2.2e-5)
(23.90,2.7e-5)(24.01,3.1e-5)(24.12,3.4e-5)(24.23,3.7e-5)(24.34,3.9e-5)(24.45,3.7e-5)(24.57,3.5e-5)(24.68,3.3e-5)(24.80,3.0e-5)(24.91,2.7e-5)
(25.02,2.3e-5)(25.14,2.1e-5)(25.25,1.8e-5)(25.36,1.6e-5)(25.48,1.4e-5)(25.59,1.2e-5)(25.70,1.1e-5)(25.82,1.0e-5)(25.93,0.9e-5)(26.04,0.8e-5)
(26.15,0.7e-5)(26.27,0.8e-5)(26.38,0.7e-5)(26.49,0.9e-5)(26.60,1.0e-5)(26.72,1.0e-5)(26.83,1.1e-5)(26.95,1.3e-5)(27.06,1.5e-5)(27.20,1.9e-5)
(27.35,2.1e-5)(27.48,2.0e-5)(27.62,1.9e-5)(27.74,1.7e-5)(27.85,1.4e-5)(27.96,0.9e-5)(28.08,0.3e-5)(28.19,-0.6e-5)(28.30,-1.4e-5)(28.42,-1.9e-5)
(28.53,-2.3e-5)(28.65,-2.6e-5)(28.76,-2.9e-5)(28.87,-2.6e-5)(28.98,-2.5e-5)(29.09,-2.7e-5)(29.20,-2.9e-5)(29.32,-3.0e-5)(29.43,-3.1e-5)(29.55,-3.3e-5)
(29.66,-3.5e-5)(29.77,-3.6e-5)(29.89,-3.8e-5)(30.00,-3.9e-5)(30.11,-4.1e-5)(30.20,-4.2e-5)(30.29,-4.3e-5)(30.37,-4.4e-5)(30.45,-4.6e-5)(30.53,-4.4e-5)
(30.61,-4.2e-5)(30.70,-4.0e-5)(30.79,-3.8e-5)(30.90,-3.6e-5)(31.02,-3.3e-5)(31.13,-2.8e-5)(31.24,-2.3e-5)(31.36,-2.0e-5)(31.47,-1.8e-5)(31.58,-1.6e-5)
(31.70,-1.4e-5)(31.81,-1.0e-5)(31.92,-0.6e-5)(32.04,-0.2e-5)(32.15,0.2e-5)(32.26,0.6e-5)(32.38,1.1e-5)(32.49,1.8e-5)(32.60,2.5e-5)(32.72,3.3e-5)
(32.83,4.1e-5)(32.94,4.8e-5)(33.05,5.5e-5)(33.17,6.1e-5)(33.28,6.7e-5)(33.40,7.2e-5)(33.51,7.7e-5)(33.62,8.2e-5)(33.73,8.6e-5)(33.86,8.9e-5)
(34.00,9.1e-5)(34.10,9.0e-5)(34.19,8.9e-5)(34.30,8.8e-5)(34.41,8.5e-5)(34.50,8.2e-5)(34.59,7.8e-5)(34.67,7.2e-5)(34.75,6.6e-5)(34.83,5.9e-5)
(34.91,5.1e-5)(35.00,4.0e-5)(35.09,2.9e-5)(35.17,1.7e-5)(35.25,0.6e-5)(35.31,-0.4e-5)(35.38,-1.4e-5)(35.46,-2.3e-5)(35.54,-3.3e-5)(35.63,-4.0e-5)
(35.72,-4.7e-5)(35.80,-5.4e-5)(35.88,-6.1e-5)(36.00,-6.7e-5)(36.11,-7.2e-5)(36.22,-7.4e-5)(36.33,-7.5e-5)(36.45,-7.6e-5)(36.56,-7.7e-5)(36.67,-7.7e-5)
(36.78,-7.5e-5)(36.90,-7.3e-5)(37.01,-7.1e-5)(37.13,-6.9e-5)(37.24,-6.6e-5)(37.35,-6.3e-5)(37.47,-6.0e-5)(37.58,-5.7e-5)(37.70,-5.2e-5)(37.81,-4.6e-5)
(37.88,-4.0e-5)(37.96,-3.3e-5)(38.05,-2.7e-5)(38.14,-2.1e-5)(38.25,-1.5e-5)(38.37,-1.0e-5)(38.48,-0.4e-5)(38.60,0.2e-5)(38.71,0.4e-5)(38.82,0.6e-5)
(38.94,0.4e-5)(39.05,0.1e-5)(39.16,-0.3e-5)(39.28,-0.6e-5)(39.42,-0.8e-5)(39.57,-1.0e-5)(39.70,-0.8e-5)(39.84,-0.6e-5)(39.95,-0.1e-5)(40.07,0.3e-5)
(40.18,0.5e-5)(40.29,0.6e-5)(40.43,1.0e-5)(40.57,1.4e-5)(40.72,1.6e-5)(40.86,1.8e-5)(40.95,1.9e-5)(41.04,2.1e-5)(41.12,2.5e-5)(41.20,3.0e-5)
(41.31,3.9e-5)(41.43,4.9e-5)(41.54,5.7e-5)(41.65,6.3e-5)(41.77,6.9e-5)(41.88,7.3e-5)(42.05,7.8e-5)(42.22,8.1e-5)(42.33,8.0e-5)(42.44,7.9e-5)
(42.55,7.8e-5)(42.67,7.7e-5)(42.75,7.4e-5)(42.83,6.9e-5)(42.92,6.2e-5)(43.00,5.4e-5)(43.10,4.9e-5)(43.19,4.3e-5)(43.27,3.7e-5)(43.35,3.0e-5)
(43.43,2.3e-5)(43.51,1.5e-5)(43.60,0.7e-5)(43.69,-0.1e-5)(43.78,-0.8e-5)(43.87,-1.4e-5)(43.96,-2.0e-5)(44.05,-2.6e-5)(44.15,-3.2e-5)(44.25,-3.8e-5)
(44.37,-4.2e-5)(44.48,-4.6e-5)(44.60,-5.0e-5)(44.71,-5.3e-5)(44.82,-5.4e-5)(44.93,-5.6e-5)(45.08,-5.8e-5)(45.23,-6.0e-5)(45.36,-5.9e-5)(45.50,-5.8e-5)
(45.61,-5.9e-5)(45.72,-5.9e-5)(45.84,-5.6e-5)(45.95,-5.3e-5)(46.06,-4.8e-5)(46.18,-4.2e-5)(46.29,-3.5e-5)(46.40,-2.9e-5)(46.52,-2.3e-5)(46.63,-1.8e-5)
(46.75,-1.3e-5)(46.86,-0.9e-5)(46.97,-0.5e-5)(47.08,-0.2e-5)(47.20,0.2e-5)(47.31,0.5e-5)(47.42,0.6e-5)(47.53,0.7e-5)(47.65,1.1e-5)(47.76,1.5e-5)
(47.87,2.1e-5)(47.99,2.7e-5)(48.10,3.2e-5)(48.21,3.5e-5)(48.33,3.5e-5)(48.44,3.5e-5)(48.55,3.6e-5)(48.67,3.7e-5)(48.78,3.8e-5)(48.89,3.8e-5)
(49.00,3.7e-5)(49.12,3.5e-5)(49.23,3.5e-5)(49.34,3.4e-5)(49.45,3.1e-5)(49.57,2.7e-5)(49.68,2.3e-5)(49.80,1.9e-5)(49.91,1.4e-5)(50.02,0.7e-5)
(50.13,0.2e-5)(50.25,-0.3e-5)(50.36,-0.3e-5)(50.48,-0.2e-5)(50.59,-0.1e-5)(50.70,-0.1e-5)(50.82,-0.1e-5)(50.93,-0.2e-5)(51.04,-0.4e-5)(51.15,-0.7e-5)
(51.27,-1.0e-5)(51.38,-1.1e-5)(51.50,-1.1e-5)(51.61,-1.1e-5)(51.72,-1.1e-5)(51.83,-1.0e-5)(51.95,-0.8e-5)(52.06,-0.6e-5)(52.17,-0.5e-5)(52.29,-0.5e-5)
(52.40,-0.6e-5)(52.51,-0.7e-5)(52.63,-0.9e-5)(52.74,-1.0e-5)(52.85,-0.8e-5)(52.97,-0.6e-5)(53.08,-0.6e-5)(53.19,-0.8e-5)(53.30,-1.0e-5)(53.42,-1.2e-5)
(53.53,-1.4e-5)(53.64,-1.8e-5)(53.76,-2.2e-5)(53.87,-2.5e-5)(53.98,-2.7e-5)(54.06,-2.5e-5)(54.14,-2.3e-5)(54.23,-1.8e-5)(54.32,-1.3e-5)(54.43,-0.7e-5)
(54.55,-0.2e-5)(54.64,0.3e-5)(54.73,0.6e-5)(54.81,1.0e-5)(54.89,1.1e-5)(54.97,1.0e-5)(55.05,0.9e-5)(55.14,0.5e-5)(55.23,0.1e-5)(55.32,-0.3e-5)
(55.41,-0.5e-5)(55.49,-0.6e-5)(55.57,-0.6e-5)(55.65,-0.3e-5)(55.73,0.1e-5)(55.81,0.6e-5)(55.90,1.3e-5)(56.01,2.0e-5)(56.13,2.7e-5)(56.25,3.4e-5)
(56.36,3.9e-5)(56.47,4.4e-5)(56.58,4.7e-5)(56.70,5.0e-5)(56.81,5.3e-5)(56.90,5.6e-5)(56.97,5.9e-5)
};
\end{axis}
\end{tikzpicture}
\end{document}
